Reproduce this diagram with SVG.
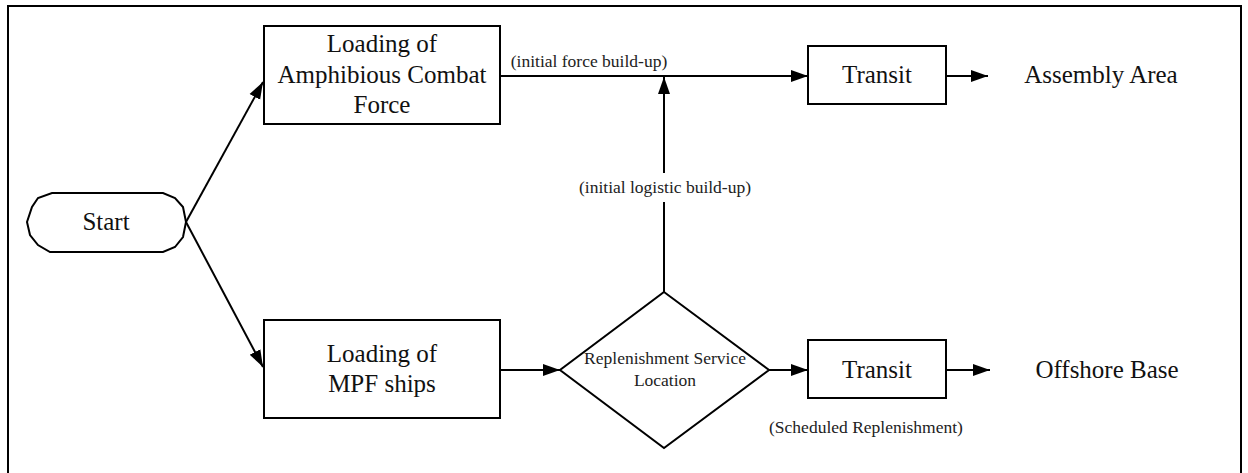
<svg xmlns="http://www.w3.org/2000/svg" width="1248" height="473" viewBox="0 0 1248 473">
  <style>
    .shape { fill: #fff; stroke: #000; stroke-width: 2; }
    .edge { fill: none; stroke: #000; stroke-width: 2; }
    .big { font-family: "Liberation Serif", "Times New Roman", serif; font-size: 25px; fill: #111; text-anchor: middle; }
    .small { font-family: "Liberation Serif", "Times New Roman", serif; font-size: 17.5px; fill: #222; text-anchor: middle; }
  </style>
  <defs>
    <marker id="arrow" markerUnits="userSpaceOnUse" markerWidth="18" markerHeight="14" refX="17" refY="7" orient="auto">
      <path d="M0,1 L17,7 L0,13 Z" fill="#000"/>
    </marker>
  </defs>

  <rect width="1248" height="473" fill="#fff"/>
  <!-- frame; its lower edge runs past the bottom of the canvas -->
  <rect x="8" y="6" width="1233" height="480" fill="none" stroke="#000" stroke-width="2"/>

  <g id="connectors">
    <line class="edge" x1="186" y1="222" x2="263" y2="82" marker-end="url(#arrow)"/>
    <line class="edge" x1="186" y1="222" x2="263" y2="367" marker-end="url(#arrow)"/>
    <line class="edge" x1="500" y1="76" x2="808" y2="76" marker-end="url(#arrow)"/>
    <line class="edge" x1="664" y1="292" x2="664" y2="202"/>
    <line class="edge" x1="664" y1="173" x2="664" y2="77" marker-end="url(#arrow)"/>
    <line class="edge" x1="946" y1="76" x2="988" y2="76" marker-end="url(#arrow)"/>
    <line class="edge" x1="500" y1="370" x2="560" y2="370" marker-end="url(#arrow)"/>
    <line class="edge" x1="769" y1="370" x2="808" y2="370" marker-end="url(#arrow)"/>
    <line class="edge" x1="946" y1="370" x2="990" y2="370" marker-end="url(#arrow)"/>
    <text class="small" x="589" y="67">(initial force build-up)</text>
    <text class="small" x="665" y="193">(initial logistic build-up)</text>
    <text class="small" x="866" y="433">(Scheduled Replenishment)</text>
  </g>

  <g id="start">
    <path class="shape" d="M52,193 L163,193 L175,198 L183,207 L186,222 L183,237 L175,247 L163,252 L50,252 L38,245 L30,235 L27,222 L32,207 L38,198 Z"/>
    <text class="big" x="106" y="230">Start</text>
  </g>

  <g id="load-acf">
    <rect class="shape" x="264" y="26" width="236" height="98"/>
    <text class="big" x="382" y="52">Loading of</text>
    <text class="big" x="382" y="83">Amphibious Combat</text>
    <text class="big" x="382" y="113">Force</text>
  </g>

  <g id="load-mpf">
    <rect class="shape" x="264" y="320" width="236" height="98"/>
    <text class="big" x="382" y="362">Loading of</text>
    <text class="big" x="382" y="392">MPF ships</text>
  </g>

  <g id="replenishment">
    <path class="shape" d="M664,292 L769,370 L664,448 L560,370 Z"/>
    <text class="small" x="665" y="364">Replenishment Service</text>
    <text class="small" x="665" y="386">Location</text>
  </g>

  <g id="transit-top">
    <rect class="shape" x="808" y="46" width="138" height="58"/>
    <text class="big" x="877" y="83">Transit</text>
  </g>

  <g id="transit-bottom">
    <rect class="shape" x="808" y="340" width="138" height="58"/>
    <text class="big" x="877" y="378">Transit</text>
  </g>

  <g id="assembly-area">
    <text class="big" x="1101" y="83">Assembly Area</text>
  </g>

  <g id="offshore-base">
    <text class="big" x="1107" y="378">Offshore Base</text>
  </g>
</svg>
